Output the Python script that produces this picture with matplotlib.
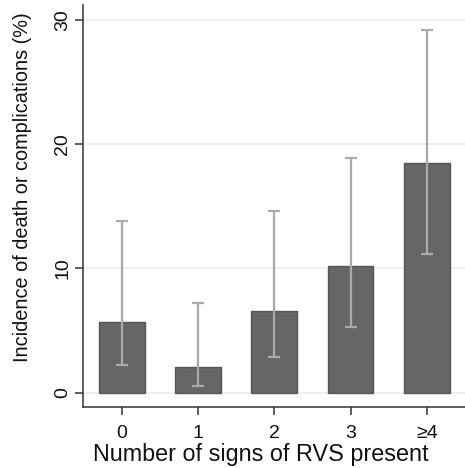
import matplotlib
matplotlib.use("Agg")
import matplotlib.pyplot as plt

plt.rcParams['font.family'] = ['Liberation Sans', 'DejaVu Sans']

# data
categories = ['0', '1', '2', '3', '\u22654']
incidence = [5.65, 2.03, 6.6, 10.2, 18.5]
ci_low = [2.2, 0.52, 2.88, 5.3, 11.15]
ci_high = [13.8, 7.2, 14.65, 18.9, 29.2]
yticks = [0, 10, 20, 30]

fig = plt.figure(figsize=(4.65, 4.68), dpi=100)
ax = fig.add_axes([0.1785, 0.131, 0.8215, 0.858])

x = list(range(len(categories)))
err = [[v - lo for v, lo in zip(incidence, ci_low)],
       [hi - v for v, hi in zip(incidence, ci_high)]]

ax.bar(x, incidence, width=0.6, color='#666666', edgecolor='#555555',
       linewidth=1.0, zorder=2)
ax.errorbar(x, incidence, yerr=err, fmt='none', ecolor='#aaaaaa',
            elinewidth=1.6, capsize=4, capthick=1.6, zorder=3)

ax.set_xlim(-0.507, 4.5)
ax.set_ylim(-1.14, 31.2)
ax.set_xticks(x)
ax.set_xticklabels(categories)
ax.set_yticks(yticks)
ax.set_yticklabels([str(t) for t in yticks], rotation=90, va='center')

ax.grid(axis='y', color='#eeeeee', linewidth=1.4, zorder=0)
ax.set_axisbelow(True)

for s in ['top', 'right']:
    ax.spines[s].set_visible(False)
for s in ['left', 'bottom']:
    ax.spines[s].set_color('#333333')
    ax.spines[s].set_linewidth(1.1)

ax.tick_params(axis='both', length=5.5, width=1.1, color='#333333',
               labelsize=14, labelcolor='#111111')
ax.tick_params(axis='y', pad=3)
ax.tick_params(axis='x', pad=8)

ax.set_xlabel('Number of signs of RVS present', fontsize=16.8, color='#111111')
ax.set_ylabel('Incidence of death or complications (%)', fontsize=14.3,
              color='#111111')
ax.xaxis.set_label_coords(0.465, -0.09)
ax.yaxis.set_label_coords(-0.134, 0.547)

fig.savefig('out.png', dpi=100)
